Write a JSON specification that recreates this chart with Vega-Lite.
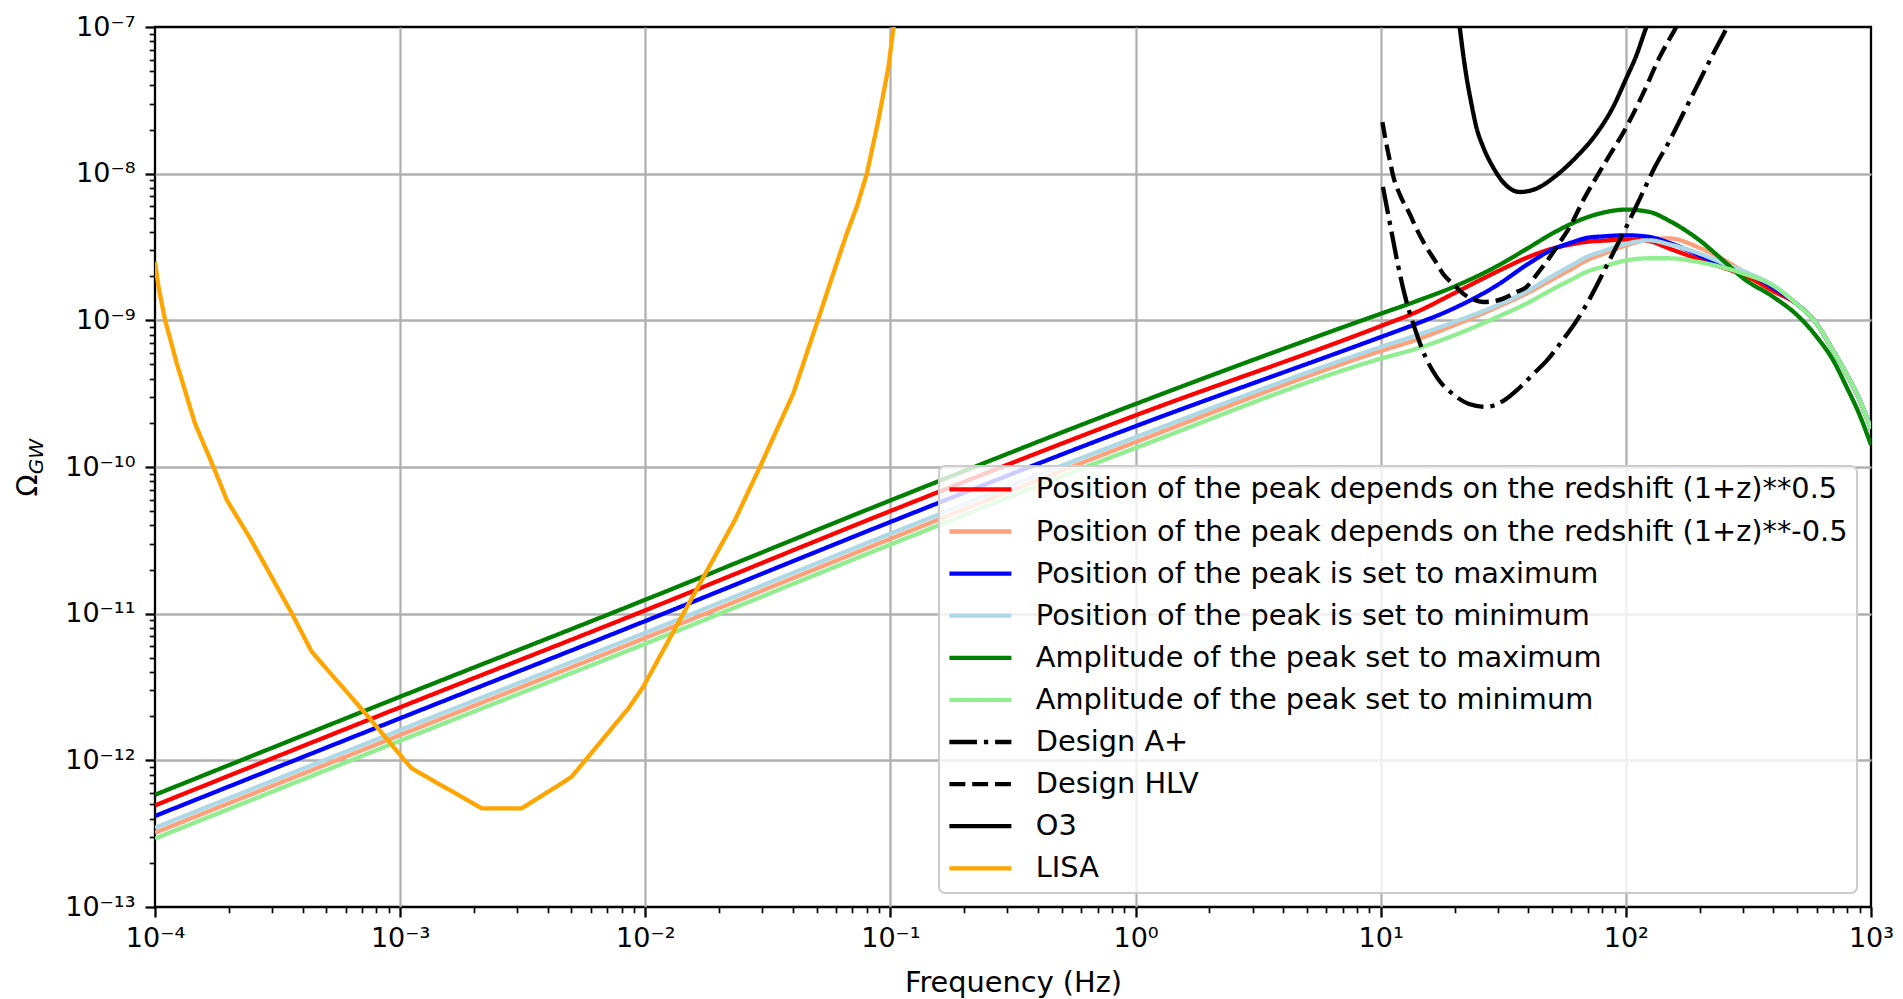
{
  "$schema": "https://vega.github.io/schema/vega-lite/v6.json",
  "width": 1716,
  "height": 880,
  "autosize": {"type": "none"},
  "padding": {"left": 155, "top": 27, "right": 32, "bottom": 92},
  "background": "white",
  "config": {
    "view": {"stroke": "black", "strokeWidth": 2.3},
    "font": "DejaVu Sans",
    "legend": {
      "orient": "bottom-right", "offset": 14, "padding": 9,
      "symbolType": "M-1.3,0H4.9", "symbolSize": 400, "symbolStrokeWidth": 4.3,
      "labelFont": "DejaVu Sans", "labelFontSize": 28.8, "labelColor": "black", "labelLimit": 0, "labelOffset": 59,
      "rowPadding": 12.1,
      "fillColor": "rgba(255,255,255,0.8)", "strokeColor": "#cccccc", "strokeWidth": 2, "cornerRadius": 6
    }
  },
  "datasets": {
    "sources": [
      {"curve": "Position of the peak depends on the redshift (1+z)**0.5", "freq": 0.0001, "omega": 4.93e-13},
      {"curve": "Position of the peak depends on the redshift (1+z)**0.5", "freq": 0.001, "omega": 2.30e-12},
      {"curve": "Position of the peak depends on the redshift (1+z)**0.5", "freq": 0.01, "omega": 1.054e-11},
      {"curve": "Position of the peak depends on the redshift (1+z)**0.5", "freq": 0.1, "omega": 5.01e-11},
      {"curve": "Position of the peak depends on the redshift (1+z)**0.5", "freq": 1, "omega": 2.25e-10},
      {"curve": "Position of the peak depends on the redshift (1+z)**0.5", "freq": 10, "omega": 9.14e-10},
      {"curve": "Position of the peak depends on the redshift (1+z)**0.5", "freq": 14, "omega": 1.140e-9},
      {"curve": "Position of the peak depends on the redshift (1+z)**0.5", "freq": 20, "omega": 1.535e-9},
      {"curve": "Position of the peak depends on the redshift (1+z)**0.5", "freq": 30, "omega": 2.16e-9},
      {"curve": "Position of the peak depends on the redshift (1+z)**0.5", "freq": 40, "omega": 2.70e-9},
      {"curve": "Position of the peak depends on the redshift (1+z)**0.5", "freq": 50, "omega": 3.08e-9},
      {"curve": "Position of the peak depends on the redshift (1+z)**0.5", "freq": 60, "omega": 3.30e-9},
      {"curve": "Position of the peak depends on the redshift (1+z)**0.5", "freq": 70, "omega": 3.44e-9},
      {"curve": "Position of the peak depends on the redshift (1+z)**0.5", "freq": 80, "omega": 3.49e-9},
      {"curve": "Position of the peak depends on the redshift (1+z)**0.5", "freq": 100, "omega": 3.55e-9},
      {"curve": "Position of the peak depends on the redshift (1+z)**0.5", "freq": 125, "omega": 3.46e-9},
      {"curve": "Position of the peak depends on the redshift (1+z)**0.5", "freq": 150, "omega": 3.09e-9},
      {"curve": "Position of the peak depends on the redshift (1+z)**0.5", "freq": 200, "omega": 2.60e-9},
      {"curve": "Position of the peak depends on the redshift (1+z)**0.5", "freq": 250, "omega": 2.28e-9},
      {"curve": "Position of the peak depends on the redshift (1+z)**0.5", "freq": 300, "omega": 2.05e-9},
      {"curve": "Position of the peak depends on the redshift (1+z)**0.5", "freq": 400, "omega": 1.58e-9},
      {"curve": "Position of the peak depends on the redshift (1+z)**0.5", "freq": 500, "omega": 1.285e-9},
      {"curve": "Position of the peak depends on the redshift (1+z)**0.5", "freq": 600, "omega": 9.48e-10},
      {"curve": "Position of the peak depends on the redshift (1+z)**0.5", "freq": 700, "omega": 6.22e-10},
      {"curve": "Position of the peak depends on the redshift (1+z)**0.5", "freq": 800, "omega": 4.22e-10},
      {"curve": "Position of the peak depends on the redshift (1+z)**0.5", "freq": 900, "omega": 2.85e-10},
      {"curve": "Position of the peak depends on the redshift (1+z)**0.5", "freq": 1000, "omega": 1.82e-10},

      {"curve": "Position of the peak depends on the redshift (1+z)**-0.5", "freq": 0.0001, "omega": 3.21e-13},
      {"curve": "Position of the peak depends on the redshift (1+z)**-0.5", "freq": 0.001, "omega": 1.489e-12},
      {"curve": "Position of the peak depends on the redshift (1+z)**-0.5", "freq": 0.01, "omega": 6.84e-12},
      {"curve": "Position of the peak depends on the redshift (1+z)**-0.5", "freq": 0.1, "omega": 3.24e-11},
      {"curve": "Position of the peak depends on the redshift (1+z)**-0.5", "freq": 1, "omega": 1.479e-10},
      {"curve": "Position of the peak depends on the redshift (1+z)**-0.5", "freq": 10, "omega": 6.18e-10},
      {"curve": "Position of the peak depends on the redshift (1+z)**-0.5", "freq": 14, "omega": 7.38e-10},
      {"curve": "Position of the peak depends on the redshift (1+z)**-0.5", "freq": 20, "omega": 9.29e-10},
      {"curve": "Position of the peak depends on the redshift (1+z)**-0.5", "freq": 30, "omega": 1.236e-9},
      {"curve": "Position of the peak depends on the redshift (1+z)**-0.5", "freq": 40, "omega": 1.545e-9},
      {"curve": "Position of the peak depends on the redshift (1+z)**-0.5", "freq": 50, "omega": 1.897e-9},
      {"curve": "Position of the peak depends on the redshift (1+z)**-0.5", "freq": 60, "omega": 2.24e-9},
      {"curve": "Position of the peak depends on the redshift (1+z)**-0.5", "freq": 70, "omega": 2.59e-9},
      {"curve": "Position of the peak depends on the redshift (1+z)**-0.5", "freq": 80, "omega": 2.82e-9},
      {"curve": "Position of the peak depends on the redshift (1+z)**-0.5", "freq": 100, "omega": 3.24e-9},
      {"curve": "Position of the peak depends on the redshift (1+z)**-0.5", "freq": 125, "omega": 3.56e-9},
      {"curve": "Position of the peak depends on the redshift (1+z)**-0.5", "freq": 150, "omega": 3.62e-9},
      {"curve": "Position of the peak depends on the redshift (1+z)**-0.5", "freq": 200, "omega": 3.12e-9},
      {"curve": "Position of the peak depends on the redshift (1+z)**-0.5", "freq": 250, "omega": 2.60e-9},
      {"curve": "Position of the peak depends on the redshift (1+z)**-0.5", "freq": 300, "omega": 2.17e-9},
      {"curve": "Position of the peak depends on the redshift (1+z)**-0.5", "freq": 400, "omega": 1.71e-9},
      {"curve": "Position of the peak depends on the redshift (1+z)**-0.5", "freq": 500, "omega": 1.285e-9},
      {"curve": "Position of the peak depends on the redshift (1+z)**-0.5", "freq": 600, "omega": 9.48e-10},
      {"curve": "Position of the peak depends on the redshift (1+z)**-0.5", "freq": 700, "omega": 6.22e-10},
      {"curve": "Position of the peak depends on the redshift (1+z)**-0.5", "freq": 800, "omega": 4.22e-10},
      {"curve": "Position of the peak depends on the redshift (1+z)**-0.5", "freq": 900, "omega": 2.85e-10},
      {"curve": "Position of the peak depends on the redshift (1+z)**-0.5", "freq": 1000, "omega": 1.82e-10},

      {"curve": "Position of the peak is set to maximum", "freq": 0.0001, "omega": 4.17e-13},
      {"curve": "Position of the peak is set to maximum", "freq": 0.001, "omega": 1.936e-12},
      {"curve": "Position of the peak is set to maximum", "freq": 0.01, "omega": 8.91e-12},
      {"curve": "Position of the peak is set to maximum", "freq": 0.1, "omega": 4.22e-11},
      {"curve": "Position of the peak is set to maximum", "freq": 1, "omega": 1.897e-10},
      {"curve": "Position of the peak is set to maximum", "freq": 10, "omega": 7.69e-10},
      {"curve": "Position of the peak is set to maximum", "freq": 14, "omega": 9.48e-10},
      {"curve": "Position of the peak is set to maximum", "freq": 20, "omega": 1.213e-9},
      {"curve": "Position of the peak is set to maximum", "freq": 30, "omega": 1.746e-9},
      {"curve": "Position of the peak is set to maximum", "freq": 40, "omega": 2.43e-9},
      {"curve": "Position of the peak is set to maximum", "freq": 50, "omega": 3.03e-9},
      {"curve": "Position of the peak is set to maximum", "freq": 60, "omega": 3.39e-9},
      {"curve": "Position of the peak is set to maximum", "freq": 70, "omega": 3.66e-9},
      {"curve": "Position of the peak is set to maximum", "freq": 80, "omega": 3.73e-9},
      {"curve": "Position of the peak is set to maximum", "freq": 100, "omega": 3.80e-9},
      {"curve": "Position of the peak is set to maximum", "freq": 125, "omega": 3.70e-9},
      {"curve": "Position of the peak is set to maximum", "freq": 150, "omega": 3.38e-9},
      {"curve": "Position of the peak is set to maximum", "freq": 200, "omega": 2.77e-9},
      {"curve": "Position of the peak is set to maximum", "freq": 250, "omega": 2.35e-9},
      {"curve": "Position of the peak is set to maximum", "freq": 300, "omega": 2.15e-9},
      {"curve": "Position of the peak is set to maximum", "freq": 400, "omega": 1.667e-9},
      {"curve": "Position of the peak is set to maximum", "freq": 500, "omega": 1.285e-9},
      {"curve": "Position of the peak is set to maximum", "freq": 600, "omega": 9.48e-10},
      {"curve": "Position of the peak is set to maximum", "freq": 700, "omega": 6.22e-10},
      {"curve": "Position of the peak is set to maximum", "freq": 800, "omega": 4.22e-10},
      {"curve": "Position of the peak is set to maximum", "freq": 900, "omega": 2.85e-10},
      {"curve": "Position of the peak is set to maximum", "freq": 1000, "omega": 1.82e-10},

      {"curve": "Position of the peak is set to minimum", "freq": 0.0001, "omega": 3.47e-13},
      {"curve": "Position of the peak is set to minimum", "freq": 0.001, "omega": 1.61e-12},
      {"curve": "Position of the peak is set to minimum", "freq": 0.01, "omega": 7.41e-12},
      {"curve": "Position of the peak is set to minimum", "freq": 0.1, "omega": 3.51e-11},
      {"curve": "Position of the peak is set to minimum", "freq": 1, "omega": 1.596e-10},
      {"curve": "Position of the peak is set to minimum", "freq": 10, "omega": 6.58e-10},
      {"curve": "Position of the peak is set to minimum", "freq": 14, "omega": 7.91e-10},
      {"curve": "Position of the peak is set to minimum", "freq": 20, "omega": 9.75e-10},
      {"curve": "Position of the peak is set to minimum", "freq": 30, "omega": 1.271e-9},
      {"curve": "Position of the peak is set to minimum", "freq": 40, "omega": 1.596e-9},
      {"curve": "Position of the peak is set to minimum", "freq": 50, "omega": 2.00e-9},
      {"curve": "Position of the peak is set to minimum", "freq": 60, "omega": 2.37e-9},
      {"curve": "Position of the peak is set to minimum", "freq": 70, "omega": 2.73e-9},
      {"curve": "Position of the peak is set to minimum", "freq": 80, "omega": 2.95e-9},
      {"curve": "Position of the peak is set to minimum", "freq": 100, "omega": 3.33e-9},
      {"curve": "Position of the peak is set to minimum", "freq": 125, "omega": 3.51e-9},
      {"curve": "Position of the peak is set to minimum", "freq": 150, "omega": 3.30e-9},
      {"curve": "Position of the peak is set to minimum", "freq": 200, "omega": 2.85e-9},
      {"curve": "Position of the peak is set to minimum", "freq": 250, "omega": 2.45e-9},
      {"curve": "Position of the peak is set to minimum", "freq": 300, "omega": 2.17e-9},
      {"curve": "Position of the peak is set to minimum", "freq": 400, "omega": 1.73e-9},
      {"curve": "Position of the peak is set to minimum", "freq": 500, "omega": 1.285e-9},
      {"curve": "Position of the peak is set to minimum", "freq": 600, "omega": 9.48e-10},
      {"curve": "Position of the peak is set to minimum", "freq": 700, "omega": 6.22e-10},
      {"curve": "Position of the peak is set to minimum", "freq": 800, "omega": 4.22e-10},
      {"curve": "Position of the peak is set to minimum", "freq": 900, "omega": 2.85e-10},
      {"curve": "Position of the peak is set to minimum", "freq": 1000, "omega": 1.82e-10},

      {"curve": "Amplitude of the peak set to maximum", "freq": 0.0001, "omega": 5.82e-13},
      {"curve": "Amplitude of the peak set to maximum", "freq": 0.001, "omega": 2.716e-12},
      {"curve": "Amplitude of the peak set to maximum", "freq": 0.01, "omega": 1.245e-11},
      {"curve": "Amplitude of the peak set to maximum", "freq": 0.1, "omega": 5.92e-11},
      {"curve": "Amplitude of the peak set to maximum", "freq": 1, "omega": 2.69e-10},
      {"curve": "Amplitude of the peak set to maximum", "freq": 10, "omega": 1.109e-9},
      {"curve": "Amplitude of the peak set to maximum", "freq": 14, "omega": 1.352e-9},
      {"curve": "Amplitude of the peak set to maximum", "freq": 20, "omega": 1.702e-9},
      {"curve": "Amplitude of the peak set to maximum", "freq": 30, "omega": 2.355e-9},
      {"curve": "Amplitude of the peak set to maximum", "freq": 40, "omega": 3.119e-9},
      {"curve": "Amplitude of the peak set to maximum", "freq": 50, "omega": 3.90e-9},
      {"curve": "Amplitude of the peak set to maximum", "freq": 60, "omega": 4.56e-9},
      {"curve": "Amplitude of the peak set to maximum", "freq": 70, "omega": 5.06e-9},
      {"curve": "Amplitude of the peak set to maximum", "freq": 80, "omega": 5.40e-9},
      {"curve": "Amplitude of the peak set to maximum", "freq": 100, "omega": 5.69e-9},
      {"curve": "Amplitude of the peak set to maximum", "freq": 125, "omega": 5.48e-9},
      {"curve": "Amplitude of the peak set to maximum", "freq": 150, "omega": 4.78e-9},
      {"curve": "Amplitude of the peak set to maximum", "freq": 200, "omega": 3.51e-9},
      {"curve": "Amplitude of the peak set to maximum", "freq": 250, "omega": 2.55e-9},
      {"curve": "Amplitude of the peak set to maximum", "freq": 300, "omega": 1.945e-9},
      {"curve": "Amplitude of the peak set to maximum", "freq": 400, "omega": 1.442e-9},
      {"curve": "Amplitude of the peak set to maximum", "freq": 500, "omega": 1.084e-9},
      {"curve": "Amplitude of the peak set to maximum", "freq": 600, "omega": 7.73e-10},
      {"curve": "Amplitude of the peak set to maximum", "freq": 700, "omega": 5.36e-10},
      {"curve": "Amplitude of the peak set to maximum", "freq": 800, "omega": 3.44e-10},
      {"curve": "Amplitude of the peak set to maximum", "freq": 900, "omega": 2.25e-10},
      {"curve": "Amplitude of the peak set to maximum", "freq": 1000, "omega": 1.413e-10},

      {"curve": "Amplitude of the peak set to minimum", "freq": 0.0001, "omega": 2.93e-13},
      {"curve": "Amplitude of the peak set to minimum", "freq": 0.001, "omega": 1.361e-12},
      {"curve": "Amplitude of the peak set to minimum", "freq": 0.01, "omega": 6.24e-12},
      {"curve": "Amplitude of the peak set to minimum", "freq": 0.1, "omega": 2.96e-11},
      {"curve": "Amplitude of the peak set to minimum", "freq": 1, "omega": 1.349e-10},
      {"curve": "Amplitude of the peak set to minimum", "freq": 10, "omega": 5.48e-10},
      {"curve": "Amplitude of the peak set to minimum", "freq": 14, "omega": 6.41e-10},
      {"curve": "Amplitude of the peak set to minimum", "freq": 20, "omega": 7.93e-10},
      {"curve": "Amplitude of the peak set to minimum", "freq": 30, "omega": 1.057e-9},
      {"curve": "Amplitude of the peak set to minimum", "freq": 40, "omega": 1.321e-9},
      {"curve": "Amplitude of the peak set to minimum", "freq": 50, "omega": 1.622e-9},
      {"curve": "Amplitude of the peak set to minimum", "freq": 60, "omega": 1.897e-9},
      {"curve": "Amplitude of the peak set to minimum", "freq": 70, "omega": 2.16e-9},
      {"curve": "Amplitude of the peak set to minimum", "freq": 80, "omega": 2.31e-9},
      {"curve": "Amplitude of the peak set to minimum", "freq": 100, "omega": 2.56e-9},
      {"curve": "Amplitude of the peak set to minimum", "freq": 125, "omega": 2.65e-9},
      {"curve": "Amplitude of the peak set to minimum", "freq": 150, "omega": 2.65e-9},
      {"curve": "Amplitude of the peak set to minimum", "freq": 200, "omega": 2.49e-9},
      {"curve": "Amplitude of the peak set to minimum", "freq": 250, "omega": 2.29e-9},
      {"curve": "Amplitude of the peak set to minimum", "freq": 300, "omega": 2.09e-9},
      {"curve": "Amplitude of the peak set to minimum", "freq": 400, "omega": 1.718e-9},
      {"curve": "Amplitude of the peak set to minimum", "freq": 500, "omega": 1.285e-9},
      {"curve": "Amplitude of the peak set to minimum", "freq": 600, "omega": 9.48e-10},
      {"curve": "Amplitude of the peak set to minimum", "freq": 700, "omega": 6.22e-10},
      {"curve": "Amplitude of the peak set to minimum", "freq": 800, "omega": 4.22e-10},
      {"curve": "Amplitude of the peak set to minimum", "freq": 900, "omega": 2.85e-10},
      {"curve": "Amplitude of the peak set to minimum", "freq": 1000, "omega": 1.82e-10}
    ],
    "detectors": [
      {"curve": "Design A+", "freq": 10.21, "omega": 8.13e-9},
      {"curve": "Design A+", "freq": 10.96, "omega": 4.37e-9},
      {"curve": "Design A+", "freq": 11.75, "omega": 2.40e-9},
      {"curve": "Design A+", "freq": 12.59, "omega": 1.445e-9},
      {"curve": "Design A+", "freq": 13.80, "omega": 8.71e-10},
      {"curve": "Design A+", "freq": 15.14, "omega": 5.75e-10},
      {"curve": "Design A+", "freq": 16.98, "omega": 4.07e-10},
      {"curve": "Design A+", "freq": 19.95, "omega": 3.09e-10},
      {"curve": "Design A+", "freq": 22.91, "omega": 2.69e-10},
      {"curve": "Design A+", "freq": 26.92, "omega": 2.57e-10},
      {"curve": "Design A+", "freq": 31.62, "omega": 2.82e-10},
      {"curve": "Design A+", "freq": 36.31, "omega": 3.39e-10},
      {"curve": "Design A+", "freq": 41.69, "omega": 4.27e-10},
      {"curve": "Design A+", "freq": 47.86, "omega": 5.37e-10},
      {"curve": "Design A+", "freq": 54.95, "omega": 7.24e-10},
      {"curve": "Design A+", "freq": 63.10, "omega": 1.0e-9},
      {"curve": "Design A+", "freq": 72.44, "omega": 1.479e-9},
      {"curve": "Design A+", "freq": 85.11, "omega": 2.51e-9},
      {"curve": "Design A+", "freq": 100, "omega": 4.27e-9},
      {"curve": "Design A+", "freq": 114.8, "omega": 6.92e-9},
      {"curve": "Design A+", "freq": 131.8, "omega": 1.122e-8},
      {"curve": "Design A+", "freq": 151.4, "omega": 1.698e-8},
      {"curve": "Design A+", "freq": 173.8, "omega": 2.69e-8},
      {"curve": "Design A+", "freq": 199.5, "omega": 4.27e-8},
      {"curve": "Design A+", "freq": 229.1, "omega": 6.76e-8},
      {"curve": "Design A+", "freq": 258.8, "omega": 1.0e-7},
      {"curve": "Design A+", "freq": 275.4, "omega": 1.26e-7},

      {"curve": "Design HLV", "freq": 10.16, "omega": 2.25e-8},
      {"curve": "Design HLV", "freq": 10.47, "omega": 1.698e-8},
      {"curve": "Design HLV", "freq": 10.89, "omega": 1.233e-8},
      {"curve": "Design HLV", "freq": 11.22, "omega": 9.77e-9},
      {"curve": "Design HLV", "freq": 12.02, "omega": 7.08e-9},
      {"curve": "Design HLV", "freq": 13.12, "omega": 5.33e-9},
      {"curve": "Design HLV", "freq": 14.13, "omega": 4.07e-9},
      {"curve": "Design HLV", "freq": 15.35, "omega": 3.16e-9},
      {"curve": "Design HLV", "freq": 16.60, "omega": 2.57e-9},
      {"curve": "Design HLV", "freq": 17.95, "omega": 2.08e-9},
      {"curve": "Design HLV", "freq": 19.95, "omega": 1.738e-9},
      {"curve": "Design HLV", "freq": 21.68, "omega": 1.521e-9},
      {"curve": "Design HLV", "freq": 23.99, "omega": 1.38e-9},
      {"curve": "Design HLV", "freq": 26.18, "omega": 1.334e-9},
      {"curve": "Design HLV", "freq": 28.84, "omega": 1.349e-9},
      {"curve": "Design HLV", "freq": 31.55, "omega": 1.406e-9},
      {"curve": "Design HLV", "freq": 35.48, "omega": 1.549e-9},
      {"curve": "Design HLV", "freq": 39.26, "omega": 1.687e-9},
      {"curve": "Design HLV", "freq": 43.65, "omega": 2.09e-9},
      {"curve": "Design HLV", "freq": 48.98, "omega": 2.70e-9},
      {"curve": "Design HLV", "freq": 53.70, "omega": 3.39e-9},
      {"curve": "Design HLV", "freq": 59.02, "omega": 4.33e-9},
      {"curve": "Design HLV", "freq": 66.99, "omega": 6.58e-9},
      {"curve": "Design HLV", "freq": 83.37, "omega": 1.233e-8},
      {"curve": "Design HLV", "freq": 100.5, "omega": 2.08e-8},
      {"curve": "Design HLV", "freq": 117.5, "omega": 3.51e-8},
      {"curve": "Design HLV", "freq": 137.4, "omega": 6.24e-8},
      {"curve": "Design HLV", "freq": 160.7, "omega": 1.0e-7},
      {"curve": "Design HLV", "freq": 173.8, "omega": 1.26e-7},

      {"curve": "O3", "freq": 20.42, "omega": 1.41e-7},
      {"curve": "O3", "freq": 20.99, "omega": 1.0e-7},
      {"curve": "O3", "freq": 21.68, "omega": 6.58e-8},
      {"curve": "O3", "freq": 22.39, "omega": 4.56e-8},
      {"curve": "O3", "freq": 23.44, "omega": 3.00e-8},
      {"curve": "O3", "freq": 24.55, "omega": 2.08e-8},
      {"curve": "O3", "freq": 26.18, "omega": 1.521e-8},
      {"curve": "O3", "freq": 28.71, "omega": 1.109e-8},
      {"curve": "O3", "freq": 31.55, "omega": 8.77e-9},
      {"curve": "O3", "freq": 36.90, "omega": 7.50e-9},
      {"curve": "O3", "freq": 43.15, "omega": 7.91e-9},
      {"curve": "O3", "freq": 52.12, "omega": 9.75e-9},
      {"curve": "O3", "freq": 62.81, "omega": 1.30e-8},
      {"curve": "O3", "freq": 75.86, "omega": 1.875e-8},
      {"curve": "O3", "freq": 88.72, "omega": 2.85e-8},
      {"curve": "O3", "freq": 99.54, "omega": 4.33e-8},
      {"curve": "O3", "freq": 110.4, "omega": 6.41e-8},
      {"curve": "O3", "freq": 121.3, "omega": 1.0e-7},
      {"curve": "O3", "freq": 125.9, "omega": 1.17e-7}
    ],
    "lisa": [
      {"curve": "LISA", "freq": 0.0001, "omega": 2.51e-9},
      {"curve": "LISA", "freq": 0.0001033, "omega": 1.694e-9},
      {"curve": "LISA", "freq": 0.0001099, "omega": 1.005e-9},
      {"curve": "LISA", "freq": 0.0001227, "omega": 5.09e-10},
      {"curve": "LISA", "freq": 0.0001455, "omega": 1.986e-10},
      {"curve": "LISA", "freq": 0.0001730, "omega": 1.005e-10},
      {"curve": "LISA", "freq": 0.0001963, "omega": 5.96e-11},
      {"curve": "LISA", "freq": 0.0002118, "omega": 4.83e-11},
      {"curve": "LISA", "freq": 0.0002443, "omega": 3.27e-11},
      {"curve": "LISA", "freq": 0.0003614, "omega": 1.005e-11},
      {"curve": "LISA", "freq": 0.0004355, "omega": 5.51e-12},
      {"curve": "LISA", "freq": 0.000741, "omega": 1.986e-12},
      {"curve": "LISA", "freq": 0.001014, "omega": 1.059e-12},
      {"curve": "LISA", "freq": 0.001114, "omega": 8.81e-13},
      {"curve": "LISA", "freq": 0.002153, "omega": 4.71e-13},
      {"curve": "LISA", "freq": 0.003133, "omega": 4.71e-13},
      {"curve": "LISA", "freq": 0.00456, "omega": 6.97e-13},
      {"curve": "LISA", "freq": 0.00501, "omega": 7.74e-13},
      {"curve": "LISA", "freq": 0.00853, "omega": 2.26e-12},
      {"curve": "LISA", "freq": 0.00982, "omega": 3.18e-12},
      {"curve": "LISA", "freq": 0.01324, "omega": 7.94e-12},
      {"curve": "LISA", "freq": 0.02323, "omega": 4.36e-11},
      {"curve": "LISA", "freq": 0.02938, "omega": 1.005e-10},
      {"curve": "LISA", "freq": 0.04018, "omega": 3.18e-10},
      {"curve": "LISA", "freq": 0.0501, "omega": 9.55e-10},
      {"curve": "LISA", "freq": 0.0585, "omega": 2.09e-9},
      {"curve": "LISA", "freq": 0.0664, "omega": 3.92e-9},
      {"curve": "LISA", "freq": 0.0729, "omega": 5.96e-9},
      {"curve": "LISA", "freq": 0.0802, "omega": 1.005e-8},
      {"curve": "LISA", "freq": 0.0893, "omega": 2.32e-8},
      {"curve": "LISA", "freq": 0.0982, "omega": 5.36e-8},
      {"curve": "LISA", "freq": 0.1028, "omega": 9.79e-8},
      {"curve": "LISA", "freq": 0.1047, "omega": 1.26e-7}
    ]
  },
  "layer": [
    {
      "data": {"name": "sources"},
      "mark": {"type": "line", "strokeWidth": 4.3, "clip": true, "interpolate": "monotone"},
      "encoding": {
        "x": {
          "field": "freq", "type": "quantitative",
          "scale": {"type": "log", "domain": [0.0001, 1000], "nice": false},
          "axis": {
            "values": [0.0001,0.0002,0.0003,0.0004,0.0005,0.0006,0.0007,0.0008,0.0009,0.001,0.002,0.003,0.004,0.005,0.006,0.007,0.008,0.009,0.01,0.02,0.03,0.04,0.05,0.06,0.07,0.08,0.09,0.1,0.2,0.3,0.4,0.5,0.6,0.7,0.8,0.9,1,2,3,4,5,6,7,8,9,10,20,30,40,50,60,70,80,90,100,200,300,400,500,600,700,800,900,1000],
            "labelExpr": "abs(log(datum.value)/LN10-round(log(datum.value)/LN10))<0.001 ? '10' + {'-4':'⁻⁴','-3':'⁻³','-2':'⁻²','-1':'⁻¹','0':'⁰','1':'¹','2':'²','3':'³'}['' + round(log(datum.value)/LN10)] : ''",
            "labelFont": "DejaVu Sans", "labelFontSize": 27, "labelColor": "black", "labelPadding": 8,
            "labelOverlap": false, "labelFlush": false, "labelAngle": 0,
            "tickColor": "black",
            "tickSize": {"condition": {"test": "abs(log(datum.value)/LN10-round(log(datum.value)/LN10))<0.001", "value": 10}, "value": 5.75},
            "tickWidth": {"condition": {"test": "abs(log(datum.value)/LN10-round(log(datum.value)/LN10))<0.001", "value": 2.3}, "value": 1.7},
            "grid": true, "gridColor": "#b0b0b0", "gridWidth": 2.3,
            "gridOpacity": {"condition": {"test": "abs(log(datum.value)/LN10-round(log(datum.value)/LN10))<0.001 && datum.value>0.00015 && datum.value<900", "value": 1}, "value": 0},
            "domain": false,
            "title": "Frequency (Hz)", "titleFont": "DejaVu Sans", "titleFontSize": 28.8, "titleFontWeight": "normal", "titleColor": "black",
            "titleBaseline": "alphabetic", "titleY": 84
          }
        },
        "y": {
          "field": "omega", "type": "quantitative",
          "scale": {"type": "log", "domain": [1e-13, 1e-7], "nice": false},
          "axis": {
            "values": [1e-13,2e-13,3e-13,4e-13,5e-13,6e-13,7e-13,8e-13,9e-13,1e-12,2e-12,3e-12,4e-12,5e-12,6e-12,7e-12,8e-12,9e-12,1e-11,2e-11,3e-11,4e-11,5e-11,6e-11,7e-11,8e-11,9e-11,1e-10,2e-10,3e-10,4e-10,5e-10,6e-10,7e-10,8e-10,9e-10,1e-9,2e-9,3e-9,4e-9,5e-9,6e-9,7e-9,8e-9,9e-9,1e-8,2e-8,3e-8,4e-8,5e-8,6e-8,7e-8,8e-8,9e-8,1e-7],
            "labelExpr": "abs(log(datum.value)/LN10-round(log(datum.value)/LN10))<0.001 ? '10' + {'-13':'⁻¹³','-12':'⁻¹²','-11':'⁻¹¹','-10':'⁻¹⁰','-9':'⁻⁹','-8':'⁻⁸','-7':'⁻⁷'}['' + round(log(datum.value)/LN10)] : ''",
            "labelFont": "DejaVu Sans", "labelFontSize": 27, "labelColor": "black", "labelPadding": 10,
            "labelOverlap": false, "labelFlush": false,
            "tickColor": "black",
            "tickSize": {"condition": {"test": "abs(log(datum.value)/LN10-round(log(datum.value)/LN10))<0.001", "value": 10}, "value": 5.75},
            "tickWidth": {"condition": {"test": "abs(log(datum.value)/LN10-round(log(datum.value)/LN10))<0.001", "value": 2.3}, "value": 1.7},
            "grid": true, "gridColor": "#b0b0b0", "gridWidth": 2.3,
            "gridOpacity": {"condition": {"test": "abs(log(datum.value)/LN10-round(log(datum.value)/LN10))<0.001 && datum.value>1.5e-13 && datum.value<9.5e-8", "value": 1}, "value": 0},
            "domain": false,
            "title": "Ω", "titleFont": "DejaVu Sans", "titleFontSize": 28.8, "titleFontWeight": "normal", "titleColor": "black",
            "titleAngle": 270, "titleAlign": "center", "titleBaseline": "alphabetic", "titleX": -119, "titleY": 458
          }
        },
        "color": {
          "field": "curve", "type": "nominal",
          "scale": {
            "domain": ["Position of the peak depends on the redshift (1+z)**0.5", "Position of the peak depends on the redshift (1+z)**-0.5", "Position of the peak is set to maximum", "Position of the peak is set to minimum", "Amplitude of the peak set to maximum", "Amplitude of the peak set to minimum", "Design A+", "Design HLV", "O3", "LISA"],
            "range": ["#ff0000", "#ffa07a", "#0000ff", "#add8e6", "#008000", "#90ee90", "#000000", "#000000", "#000000", "#ffa500"]
          },
          "legend": {"title": null}
        },
        "strokeDash": {
          "field": "curve", "type": "nominal",
          "scale": {
            "domain": ["Position of the peak depends on the redshift (1+z)**0.5", "Position of the peak depends on the redshift (1+z)**-0.5", "Position of the peak is set to maximum", "Position of the peak is set to minimum", "Amplitude of the peak set to maximum", "Amplitude of the peak set to minimum", "Design A+", "Design HLV", "O3", "LISA"],
            "range": [[1,0],[1,0],[1,0],[1,0],[1,0],[1,0],[27.6,6.9,4.3,6.9],[15.9,6.9],[1,0],[1,0]]
          },
          "legend": {"title": null}
        }
      }
    },
    {
      "data": {"name": "detectors"},
      "mark": {"type": "line", "strokeWidth": 4.3, "clip": true, "interpolate": "monotone"},
      "encoding": {
        "x": {"field": "freq", "type": "quantitative", "scale": {"type": "log", "domain": [0.0001, 1000], "nice": false}},
        "y": {
          "field": "omega", "type": "quantitative",
          "scale": {"type": "log", "domain": [1e-13, 1e-7], "nice": false},
          "axis": {
            "orient": "left", "labels": false, "ticks": false, "grid": false, "domain": false,
            "title": "GW", "titleFont": "DejaVu Sans", "titleFontSize": 20, "titleFontStyle": "italic", "titleFontWeight": "normal", "titleColor": "black",
            "titleAngle": 270, "titleAlign": "center", "titleBaseline": "alphabetic", "titleX": -113, "titleY": 429
          }
        },
        "color": {
          "field": "curve", "type": "nominal",
          "scale": {
            "domain": ["Position of the peak depends on the redshift (1+z)**0.5", "Position of the peak depends on the redshift (1+z)**-0.5", "Position of the peak is set to maximum", "Position of the peak is set to minimum", "Amplitude of the peak set to maximum", "Amplitude of the peak set to minimum", "Design A+", "Design HLV", "O3", "LISA"],
            "range": ["#ff0000", "#ffa07a", "#0000ff", "#add8e6", "#008000", "#90ee90", "#000000", "#000000", "#000000", "#ffa500"]
          },
          "legend": {"title": null}
        },
        "strokeDash": {
          "field": "curve", "type": "nominal",
          "scale": {
            "domain": ["Position of the peak depends on the redshift (1+z)**0.5", "Position of the peak depends on the redshift (1+z)**-0.5", "Position of the peak is set to maximum", "Position of the peak is set to minimum", "Amplitude of the peak set to maximum", "Amplitude of the peak set to minimum", "Design A+", "Design HLV", "O3", "LISA"],
            "range": [[1,0],[1,0],[1,0],[1,0],[1,0],[1,0],[27.6,6.9,4.3,6.9],[15.9,6.9],[1,0],[1,0]]
          },
          "legend": {"title": null}
        }
      }
    },
    {
      "data": {"name": "lisa"},
      "mark": {"type": "line", "strokeWidth": 4.3, "clip": true},
      "encoding": {
        "x": {"field": "freq", "type": "quantitative", "scale": {"type": "log", "domain": [0.0001, 1000], "nice": false}},
        "y": {
          "field": "omega", "type": "quantitative",
          "scale": {"type": "log", "domain": [1e-13, 1e-7], "nice": false},
          "axis": null
        },
        "color": {
          "field": "curve", "type": "nominal",
          "scale": {
            "domain": ["Position of the peak depends on the redshift (1+z)**0.5", "Position of the peak depends on the redshift (1+z)**-0.5", "Position of the peak is set to maximum", "Position of the peak is set to minimum", "Amplitude of the peak set to maximum", "Amplitude of the peak set to minimum", "Design A+", "Design HLV", "O3", "LISA"],
            "range": ["#ff0000", "#ffa07a", "#0000ff", "#add8e6", "#008000", "#90ee90", "#000000", "#000000", "#000000", "#ffa500"]
          },
          "legend": {"title": null}
        },
        "strokeDash": {
          "field": "curve", "type": "nominal",
          "scale": {
            "domain": ["Position of the peak depends on the redshift (1+z)**0.5", "Position of the peak depends on the redshift (1+z)**-0.5", "Position of the peak is set to maximum", "Position of the peak is set to minimum", "Amplitude of the peak set to maximum", "Amplitude of the peak set to minimum", "Design A+", "Design HLV", "O3", "LISA"],
            "range": [[1,0],[1,0],[1,0],[1,0],[1,0],[1,0],[27.6,6.9,4.3,6.9],[15.9,6.9],[1,0],[1,0]]
          },
          "legend": {"title": null}
        }
      }
    }
  ],
  "resolve": {"axis": {"y": "independent"}}
}
